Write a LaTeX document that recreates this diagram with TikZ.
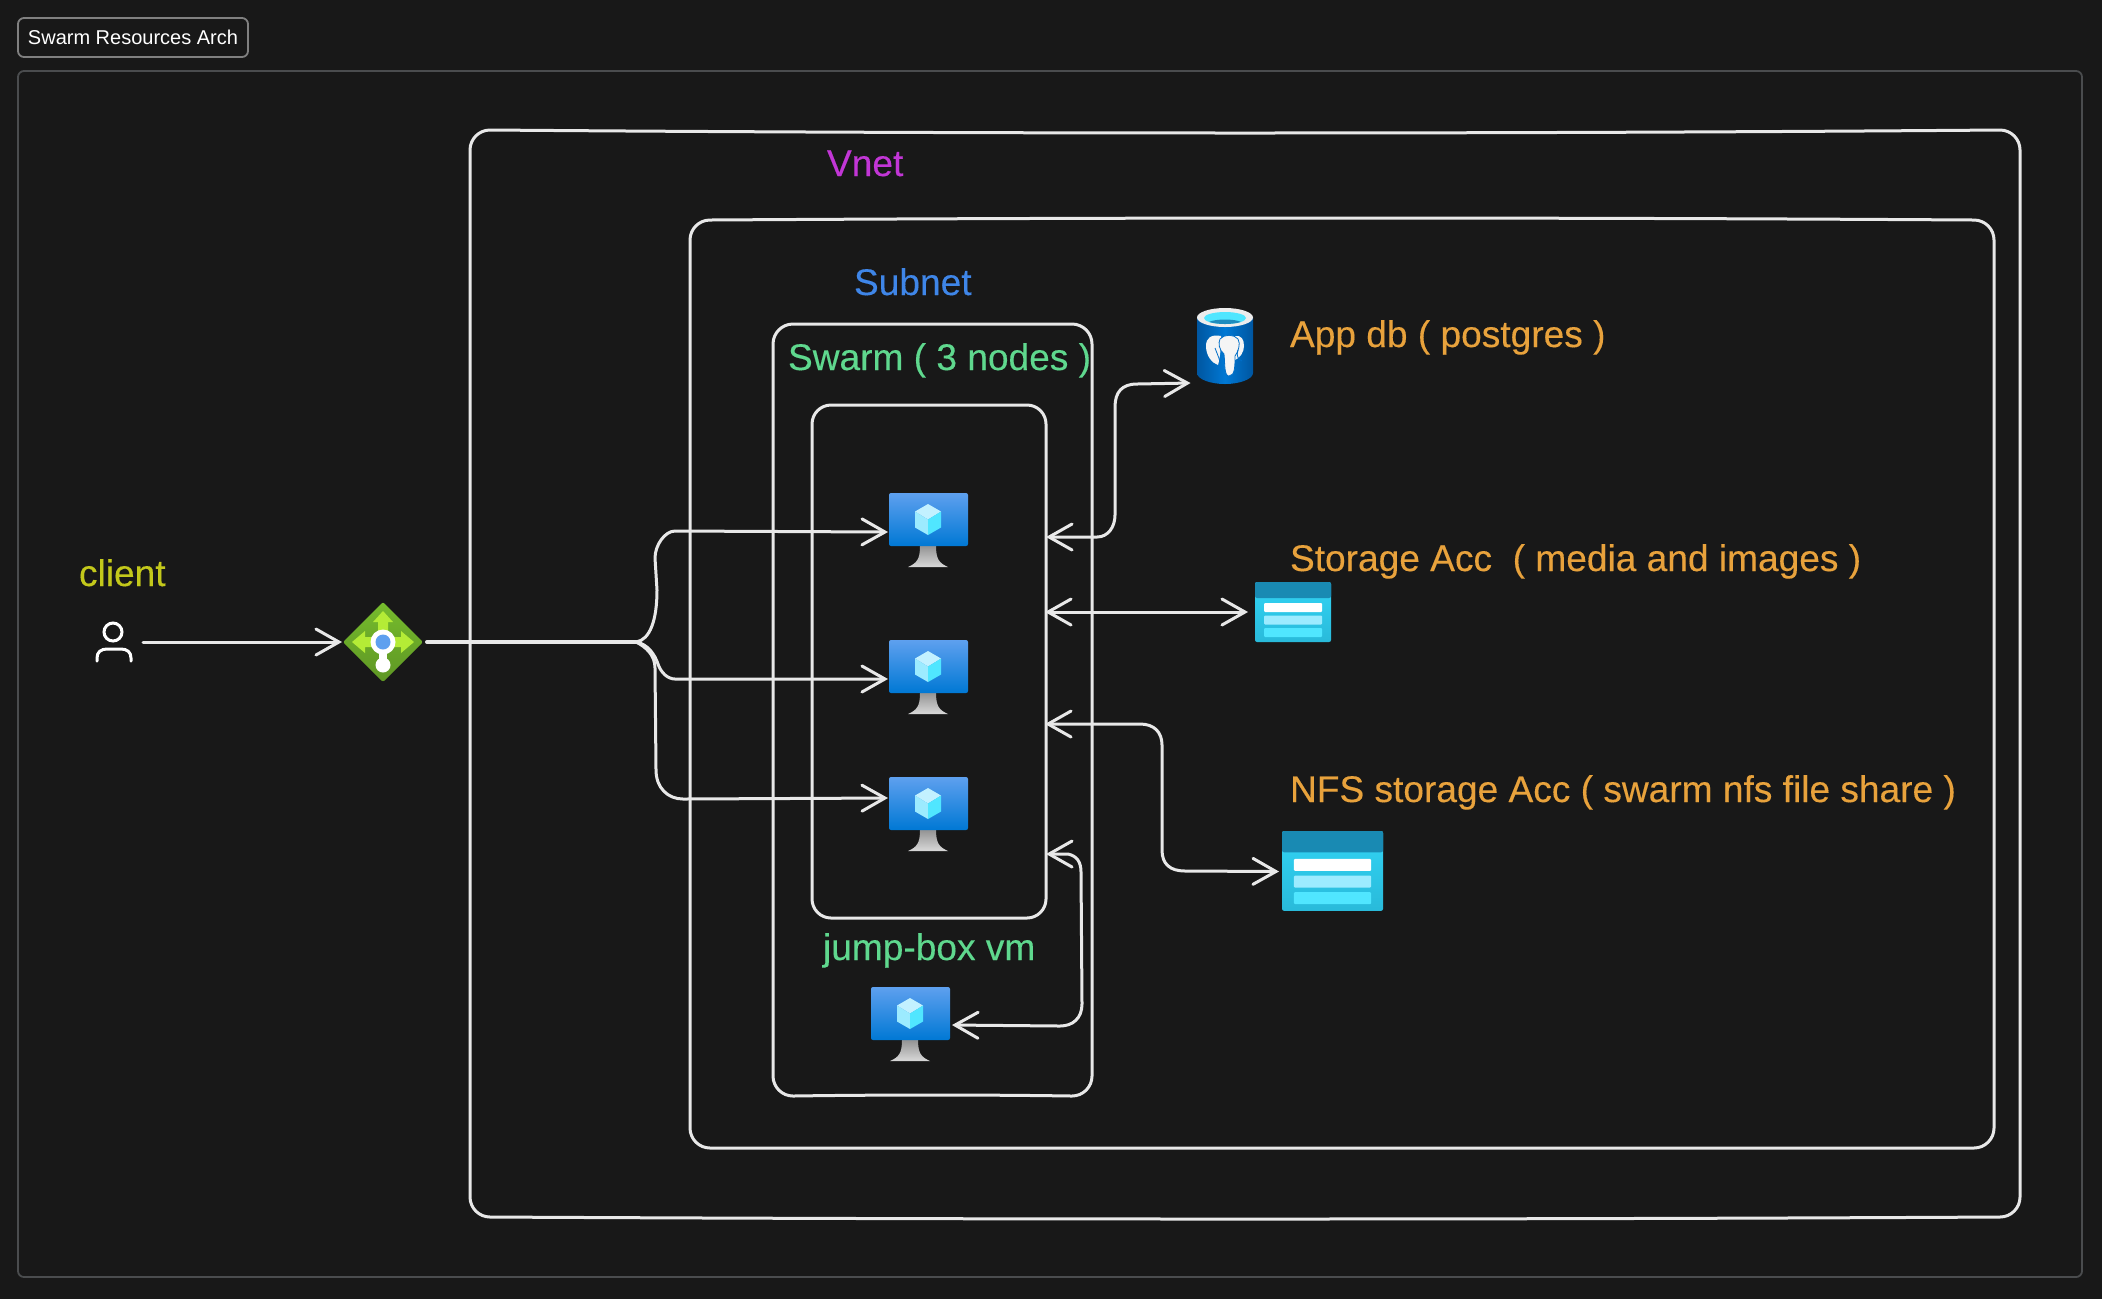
\documentclass[tikz,border=0pt]{standalone}
\usepackage{fontspec}
\setmainfont{Liberation Sans}
\newfontfamily\handfont[FakeBold=0.25]{Liberation Sans}
\usetikzlibrary{arrows.meta}
\definecolor{bgc}{HTML}{181818}
\definecolor{linec}{HTML}{E8E8E8}
\definecolor{framec}{HTML}{4A4C4E}
\definecolor{titlec}{HTML}{808080}
\definecolor{clientc}{HTML}{C3C81B}
\definecolor{vnetc}{HTML}{C236D6}
\definecolor{subnetc}{HTML}{3F86E8}
\definecolor{greenc}{HTML}{5FD88E}
\definecolor{orangec}{HTML}{E8A23C}
\tikzset{
  x=0.5pt,y=-0.5pt,
  >={Straight Barb[length=11.5pt,width=13pt,line cap=round]},
  conn/.style={draw=linec,line width=1.5pt,line cap=round,line join=round},
  boxnode/.style={inner sep=0pt,outer sep=0pt,draw=none},
  lbl/.style={anchor=base west,inner sep=0pt,outer sep=0pt,font=\handfont\fontsize{18.55}{22}\selectfont,text=#1},
  iconbox/.style={inner sep=0pt,outer sep=0.5pt,draw=none},
}
% hand-drawn rounded box: x1,y1,x2,y2,top sag,bottom sag,radius
\newcommand{\handbox}[7]{%
  \draw[conn]
    (#1,{#2+#7}) .. controls (#1,{#2+0.45*#7}) and ({#1+0.45*#7},#2) .. ({#1+#7},#2)
    .. controls ({#1+(#3-#1)/3},{#2+#5*1.33}) and ({#3-(#3-#1)/3},{#2+#5*1.33}) .. ({#3-#7},#2)
    .. controls ({#3-0.45*#7},#2) and (#3,{#2+0.45*#7}) .. (#3,{#2+#7})
    -- (#3,{#4-#7})
    .. controls (#3,{#4-0.45*#7}) and ({#3-0.45*#7},#4) .. ({#3-#7},#4)
    .. controls ({#3-(#3-#1)/3},{#4+#6*1.33}) and ({#1+(#3-#1)/3},{#4+#6*1.33}) .. ({#1+#7},#4)
    .. controls ({#1+0.45*#7},#4) and (#1,{#4-0.45*#7}) .. (#1,{#4-#7})
    -- cycle;}
\newcommand{\vmicon}[2]{%
  \begin{scope}[shift={(#1,#2)}]
    \shade[top color=black!42!white,bottom color=black!15!white] (31,53) .. controls (31,66) and (28,70) .. (19,74) -- (59,74) .. controls (50,70) and (47,66) .. (47,53) -- cycle;
    \shade[top color={rgb,255:red,94;green,160;blue,239},bottom color={rgb,255:red,0;green,120;blue,212},rounded corners=1pt] (0,0) rectangle (79,53);
    \fill[color={rgb,255:red,195;green,241;blue,255}] (39,11) -- (52,18.5) -- (39,26.5) -- (26,18.5) -- cycle;
    \fill[color={rgb,255:red,156;green,235;blue,255}] (26,18.5) -- (39,26.5) -- (39,42) -- (26,34.5) -- cycle;
    \fill[color={rgb,255:red,80;green,230;blue,255}] (52,18.5) -- (39,26.5) -- (39,42) -- (52,34.5) -- cycle;
  \end{scope}}
\newcommand{\pgicon}[2]{%
  \begin{scope}[shift={(#1,#2)}]
    \shade[left color={rgb,255:red,0;green,86;blue,160},right color={rgb,255:red,0;green,86;blue,160},middle color={rgb,255:red,0;green,120;blue,212}] (0,10) -- (0,65) .. controls (0,71) and (13,76) .. (28,76) .. controls (43,76) and (56,71) .. (56,65) -- (56,10) -- cycle;
    \fill[color=black!7!white] (28,9.5) ellipse [x radius=28,y radius=9.5];
    \fill[color={rgb,255:red,80;green,230;blue,255}] (28,10) ellipse [x radius=21,y radius=6];
    \begin{scope}
      \clip (28,10) ellipse [x radius=21,y radius=6];
      \fill[color={rgb,255:red,30;green,140;blue,190}] (28,16) ellipse [x radius=18,y radius=4.5];
    \end{scope}
    \fill[color=black!4!white] (24,28) .. controls (14,26) and (9,30) .. (9,38) .. controls (9,48) and (15,55) .. (21,57) .. controls (23,50) and (24,40) .. (24,28) -- cycle;
    \fill[color=black!4!white] (38,28) .. controls (44,27) and (47,31) .. (47,38) .. controls (47,44) and (43,50) .. (38,52) -- cycle;
    \draw[color={rgb,255:red,0;green,110;blue,200},fill=black!4!white,line width=0.4pt] (23,31) .. controls (27,26) and (37,26) .. (41,31) .. controls (44,36) and (41,44) .. (38,48) .. controls (38,58) and (38,68) .. (32,68) .. controls (27,68) and (28,56) .. (27,46) .. controls (22,42) and (21,35) .. (23,31) -- cycle;
    \draw[color={rgb,255:red,0;green,110;blue,200},line width=0.4pt] (18,40) .. controls (21,48) and (23,52) .. (23,55);
    \draw[color={rgb,255:red,0;green,110;blue,200},line width=0.4pt] (41,42) .. controls (39,48) and (41,51) .. (45,53);
  \end{scope}}
\newcommand{\sticon}[3]{%
  \begin{scope}[shift={(#1,#2)},scale=#3]
    \shade[top color={rgb,255:red,50;green,212;blue,245},bottom color={rgb,255:red,41;green,186;blue,218},rounded corners=1pt] (0,0) rectangle (76,60);
    \fill[color={rgb,255:red,25;green,138;blue,179},rounded corners=1pt] (0,0) -- (76,0) -- (76,16) -- (0,16) -- cycle;
    \fill[color=white,rounded corners=0.5pt] (9,21) rectangle (67,30);
    \fill[color={rgb,255:red,156;green,235;blue,255},rounded corners=0.5pt] (9,33.5) rectangle (67,42.5);
    \fill[color={rgb,255:red,80;green,230;blue,255},rounded corners=0.5pt] (9,46) rectangle (67,55);
  \end{scope}}
\begin{document}
\begin{tikzpicture}
  \useasboundingbox (0,0) rectangle (2102,1298);
  \fill[bgc] (-20,-20) rectangle (2122,1318);

  % frames
  \node[draw=framec,line width=0.9pt,rounded corners=3pt,inner sep=0pt,minimum width=1032pt,minimum height=603pt] (frame) at (1050,674) {};
  \node[draw=titlec,line width=0.9pt,rounded corners=3pt,inner sep=0pt,minimum width=115pt,minimum height=19.5pt,text=white,font=\fontsize{10}{12}\selectfont] (title) at (133,37.5) {\raisebox{0.5pt}{Swarm Resources Arch}};

  % hand-drawn containers
  \node[boxnode,minimum width=775pt,minimum height=543.5pt] (vnet) at (1245,673.5) {};
  \handbox{470}{130}{2020}{1217}{3}{2}{20}
  \node[boxnode,minimum width=652pt,minimum height=464pt] (subnet) at (1342,684) {};
  \handbox{690}{220}{1994}{1148}{-2}{0}{20}
  \node[boxnode,minimum width=159pt,minimum height=385.5pt] (swarm) at (932,709.5) {};
  \handbox{773}{324}{1092}{1096}{0}{-1}{20}
  \node[boxnode,minimum width=116pt,minimum height=256pt] (inner) at (929,662) {};
  \handbox{812}{405}{1046}{918}{0}{0}{19}

  % labels
  \node[lbl=clientc] (lclient) at (79,586) {client};
  \node[lbl=vnetc] (lvnet) at (827,176) {Vnet};
  \node[lbl=subnetc] (lsubnet) at (854,295) {Subnet};
  \node[lbl=greenc] (lswarm) at (788,370) {Swarm ( 3 nodes )};
  \node[lbl=greenc] (ljump) at (823,960) {jump-box vm};
  \node[lbl=orangec] (lapp) at (1290,347) {App db ( postgres )};
  \node[lbl=orangec] (lstore) at (1290,571) {Storage Acc~ ( media and images )};
  \node[lbl=orangec] (lnfs) at (1290,802) {NFS storage Acc ( swarm nfs file share )};

  % person icon
  \node[iconbox,minimum width=17pt,minimum height=20pt] (client) at (114,642) {};
  \draw[white,line width=1.5pt] (113,632) circle [radius=9];
  \draw[white,line width=1.5pt,line cap=round] (97,661) -- (97,658) .. controls (97,652) and (101,649) .. (107,649) -- (121,649) .. controls (127,649) and (131,652) .. (131,658) -- (131,661);

  % load balancer icon
  \node[iconbox,minimum width=40pt,minimum height=40pt] (lb) at (383,642) {};
  \shade[top color={rgb,255:red,118;green,188;blue,45},bottom color={rgb,255:red,94;green,150;blue,36},rounded corners=1pt] (383,602) -- (423,642) -- (383,682) -- (343,642) -- cycle;
  \fill[color={rgb,255:red,180;green,236;blue,54}] (383,611) -- (393,622) -- (388,622) -- (388,642) -- (378,642) -- (378,622) -- (373,622) -- cycle;
  \fill[color={rgb,255:red,180;green,236;blue,54}] (352,642) -- (365,631) -- (365,637) -- (383,637) -- (383,647) -- (365,647) -- (365,653) -- cycle;
  \fill[color={rgb,255:red,180;green,236;blue,54}] (414,642) -- (401,631) -- (401,637) -- (383,637) -- (383,647) -- (401,647) -- (401,653) -- cycle;
  \fill[white] (379,645) rectangle (387,665);
  \fill[white] (383,642) circle [radius=12.5];
  \fill[white] (383,665) circle [radius=7.5];
  \fill[color={rgb,255:red,94;green,160;blue,239}] (383,642) circle [radius=7.5];

  % service icons
  \node[iconbox,minimum width=39.5pt,minimum height=39pt] (vm1) at (928.5,532) {};
  \vmicon{889}{493}
  \node[iconbox,minimum width=39.5pt,minimum height=39pt] (vm2) at (928.5,679) {};
  \vmicon{889}{640}
  \node[iconbox,minimum width=39.5pt,minimum height=37pt] (vm3) at (928.5,814) {};
  \vmicon{889}{777}
  \node[iconbox,outer sep=1pt,minimum width=39.5pt,minimum height=37pt] (vm4) at (910.5,1025) {};
  \vmicon{871}{987}
  \node[iconbox,minimum width=28pt,minimum height=38pt] (pg) at (1225,346) {};
  \pgicon{1197}{308}
  \node[iconbox,outer sep=3.5pt,minimum width=38pt,minimum height=30pt] (st1) at (1293,612) {};
  \sticon{1255}{582}{1}
  \node[iconbox,outer sep=1.5pt,minimum width=50pt,minimum height=40.5pt] (st2) at (1332,871.5) {};
  \sticon{1282}{831}{1.33}

  % connector ports
  \coordinate (in3) at (888,798);
  \coordinate (hub) at (636,642);
  \coordinate (pgin) at (1190.5,383);
  \coordinate (p1) at (1046,537);
  \coordinate (p2) at (1045,612);
  \coordinate (p3) at (1045,724);
  \coordinate (p4) at (1046,854);
  \coordinate (cout) at (143,642);
  \coordinate (lbout) at (427,642);

  % connectors
  \draw[conn,->] (cout) -- (lb.west);
  \draw[conn,line width=2pt] (lbout) -- (hub);
  \draw[conn,->] (hub) .. controls (650,640) and (657,620) .. (657,590) -- (655,558) .. controls (655,545) and (665,531) .. (675,531) -- (vm1.west);
  \draw[conn,->] (hub) .. controls (648,644) and (655,655) .. (658,664) .. controls (661,673) and (668,679) .. (675,679) -- (vm2.west);
  \draw[conn,->] (hub) .. controls (646,647) and (655,655) .. (655,668) -- (656,770) .. controls (656,788) and (668,799) .. (683,799) -- (in3);
  \draw[conn,<->] (p1) -- (1097,537) .. controls (1108,537) and (1115,527) .. (1115,515) -- (1115,407) .. controls (1115,392) and (1122,384) .. (1137,384) -- (pgin);
  \draw[conn,<->] (p2) -- (st1.west);
  \draw[conn,<->] (p3) -- (1140,724) .. controls (1154,724) and (1162,732) .. (1162,745) -- (1162,850) .. controls (1162,864) and (1170,871) .. (1185,871) -- (st2.west);
  \draw[conn,<->] (p4) -- (1068,854) .. controls (1077,856) and (1081,862) .. (1081,872) -- (1082,1004) .. controls (1082,1018) and (1073,1026) .. (1060,1026) -- (vm4.east);
\end{tikzpicture}
\end{document}
